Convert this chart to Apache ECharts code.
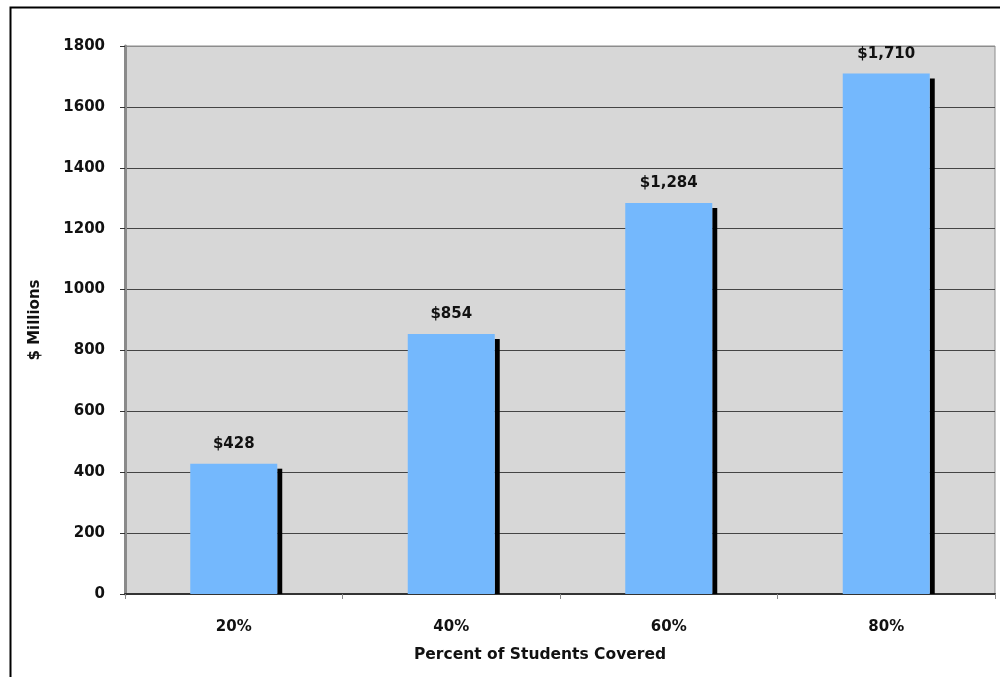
<!DOCTYPE html>
<html>
<head>
<meta charset="utf-8">
<script src="https://cdn.jsdelivr.net/npm/echarts@6/dist/echarts.min.js"></script>
<style>
html,body{margin:0;padding:0;background:#fff;}
#chart{width:1000px;height:677px;}
</style>
</head>
<body>
<div id="chart"></div>
<script>
const categories = ['20%', '40%', '60%', '80%'];
const costValues = [428, 854, 1284, 1710];
const valueLabels = ['$428', '$854', '$1,284', '$1,710'];
const yAxisTitle = '$ Millions';
const xAxisTitle = 'Percent of Students Covered';

const FONT = 'DejaVu Sans';
const BAR_FRAC = 0.4;

const chart = echarts.init(document.getElementById('chart'), null, {renderer: 'canvas'});

const option = {
  animation: false,
  backgroundColor: '#ffffff',
  graphic: [{
    type: 'rect',
    left: 8, top: 5,
    shape: {width: 2000, height: 2000},
    style: {fill: 'none', stroke: '#000', lineWidth: 2},
    z: -10
  }],
  grid: {
    left: 125, right: 5, top: 46, bottom: 83,
    show: true,
    backgroundColor: '#d7d7d7',
    borderColor: '#8c8c8c',
    borderWidth: 1
  },
  xAxis: {
    type: 'category',
    data: categories,
    name: xAxisTitle,
    nameLocation: 'middle',
    nameGap: 53,
    nameTextStyle: {fontFamily: FONT, fontWeight: 'bold', fontSize: 15.5, color: '#111', verticalAlign: 'top', padding: [0, 40, 0, 0]},
    axisLine: {show: true, lineStyle: {color: '#333', width: 2}},
    axisTick: {show: true, length: 5, lineStyle: {color: '#888', width: 1}},
    axisLabel: {fontFamily: FONT, fontWeight: 'bold', fontSize: 15, color: '#111', margin: 26},
    splitLine: {show: false}
  },
  yAxis: {
    type: 'value',
    min: 0, max: 1800, interval: 200,
    name: yAxisTitle,
    nameLocation: 'middle',
    nameRotate: 90,
    nameGap: 82,
    nameTextStyle: {fontFamily: FONT, fontWeight: 'bold', fontSize: 15, color: '#111'},
    axisLine: {show: true, lineStyle: {color: '#8a8a8a', width: 3}},
    axisTick: {show: true, length: 5, lineStyle: {color: '#333', width: 1}},
    axisLabel: {fontFamily: FONT, fontWeight: 'bold', fontSize: 15, color: '#111', margin: 20, formatter: v => String(v)},
    splitLine: {show: true, lineStyle: {
      color: ['#333', '#444', '#444', '#444', '#444', '#444', '#444', '#444', '#444', '#8c8c8c'],
      width: 1
    }}
  },
  series: [
    {
      type: 'custom',
      z: 2,
      data: costValues.map((v, i) => [i, v]),
      renderItem: function (params, api) {
        const base = api.coord([api.value(0), 0]);
        const top = api.coord([api.value(0), api.value(1)]);
        const w = api.size([1, 0])[0] * BAR_FRAC;
        return {
          type: 'rect',
          shape: {x: base[0] + w / 2, y: top[1] + 5, width: 5, height: base[1] - top[1] - 5},
          style: {fill: '#000'}
        };
      },
      silent: true
    },
    {
      type: 'bar',
      z: 3,
      data: costValues,
      barWidth: (BAR_FRAC * 100) + '%',
      itemStyle: {color: '#74b8fd'},
      label: {
        show: true,
        position: 'top',
        distance: 12,
        fontFamily: FONT, fontWeight: 'bold', fontSize: 15, color: '#111',
        formatter: p => valueLabels[p.dataIndex]
      }
    }
  ]
};
chart.setOption(option);
</script>
</body>
</html>
